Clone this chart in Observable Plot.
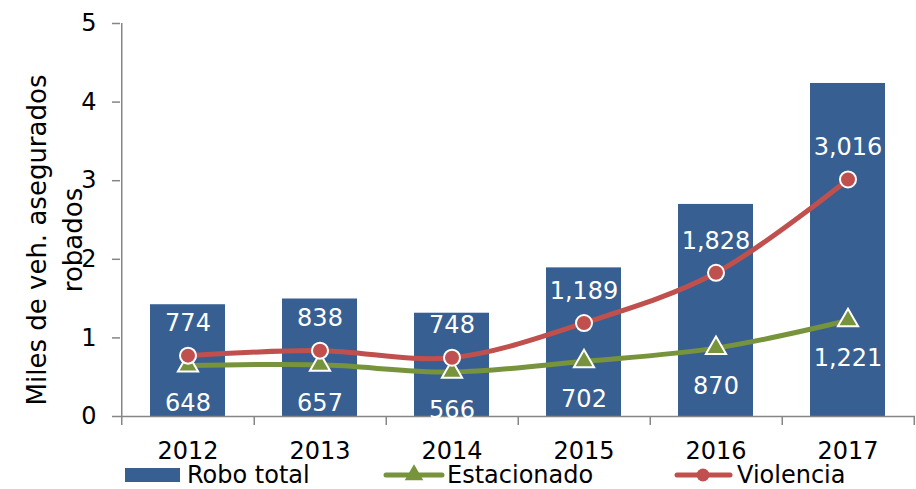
<!DOCTYPE html>
<html>
<head>
<meta charset="utf-8">
<script src="https://cdn.jsdelivr.net/npm/d3@7"></script>
<script src="https://cdn.jsdelivr.net/npm/@observablehq/plot@0.6"></script>
<style>
  html, body { margin: 0; padding: 0; background: #fff; }
  #wrap { position: relative; width: 916px; height: 489px; font-family: "DejaVu Sans", sans-serif; }
</style>
</head>
<body>
<div id="wrap"></div>
<script>
// ---- data ----
const years = ["2012", "2013", "2014", "2015", "2016", "2017"];
const roboTotal = [1422, 1495, 1314, 1891, 2698, 4237];
const violencia = [774, 838, 748, 1189, 1828, 3016];
const estacionado = [648, 657, 566, 702, 870, 1221];
const yTicks = [0, 1, 2, 3, 4, 5];
const yTitle = "Miles de veh. asegurados\nrobados";
const seriesNames = ["Robo total", "Estacionado", "Violencia"];

const BLUE = "#375F92", GREEN = "#77933C", RED = "#C0504D", AXIS = "#868686";
const fmt = d3.format(",");

const rows = years.map((y, i) => ({
  year: y,
  total: roboTotal[i] / 1000,
  vio: violencia[i] / 1000,
  est: estacionado[i] / 1000,
  vioLabel: fmt(violencia[i]),
  estLabel: fmt(estacionado[i])
}));

const halfStep = (916 - 120 - 1) / years.length / 2;

const chart = Plot.plot({
  width: 916,
  height: 489,
  marginLeft: 120,
  marginRight: 1,
  marginTop: 23,
  marginBottom: 73,
  style: { fontFamily: "DejaVu Sans, sans-serif", fontSize: "24px", color: "#000", background: "#fff" },
  x: { domain: years, paddingInner: 0.43, paddingOuter: 0.215, axis: null },
  y: { domain: [0, 5], axis: null },
  marks: [
    Plot.barY(rows, { x: "year", y: "total", fill: BLUE }),
    // axis lines
    Plot.ruleY([0], { stroke: AXIS, strokeWidth: 1.5 }),
    Plot.ruleX([years[0]], { dx: -halfStep, stroke: AXIS, strokeWidth: 1.5, insetBottom: -9 }),
    Plot.ruleX(years, { dx: halfStep, stroke: AXIS, strokeWidth: 1.5, insetTop: 393, insetBottom: -9 }),
    Plot.axisY({ ticks: yTicks, tickSize: 8, tickPadding: 16, stroke: AXIS, strokeWidth: 1.5, fill: "#000", fontSize: 24, tickFormat: d3.format("d"), label: null }),
    Plot.axisX({ tickSize: 0, tickPadding: 25, fill: "#000", fontSize: 24, label: null }),
    // lines
    Plot.line(rows, { x: "year", y: "est", stroke: GREEN, strokeWidth: 5, curve: "catmull-rom" }),
    Plot.line(rows, { x: "year", y: "vio", stroke: RED, strokeWidth: 5, curve: "catmull-rom" }),
    Plot.dot(rows, { x: "year", y: "est", symbol: "triangle", r: 7.5, fill: GREEN, stroke: "#fff", strokeWidth: 2 }),
    Plot.dot(rows, { x: "year", y: "vio", symbol: "circle", r: 8, fill: RED, stroke: "#fff", strokeWidth: 2 }),
    // data labels
    Plot.text(rows, { x: "year", y: "vio", text: "vioLabel", dy: -32, fill: "#fff", fontSize: 24 }),
    Plot.text(rows, { x: "year", y: "est", text: "estLabel", dy: 38, fill: "#fff", fontSize: 24 }),
    // y title
    Plot.text([yTitle], { frameAnchor: "left", dx: -68, dy: 20, rotate: -90, fontSize: 26, lineHeight: 1.38, fill: "#000", textAnchor: "middle" })
  ]
});

const wrap = document.getElementById("wrap");
wrap.appendChild(chart);

// legend
const leg = d3.create("svg").attr("width", 916).attr("height", 30)
  .style("position", "absolute").style("left", "0px").style("top", "459px");
const cy = 16;
leg.append("rect").attr("x", 125).attr("y", cy - 7).attr("width", 55).attr("height", 14).attr("fill", BLUE);
leg.append("text").attr("x", 187).attr("y", cy).attr("dy", "0.35em").attr("font-size", 24).attr("font-family", "DejaVu Sans").text(seriesNames[0]);
leg.append("line").attr("x1", 386).attr("x2", 442).attr("y1", cy).attr("y2", cy).attr("stroke", GREEN).attr("stroke-width", 5).attr("stroke-linecap", "round");
leg.append("path").attr("d", d3.symbol(d3.symbolTriangle, 150)()).attr("transform", `translate(414,${cy})`).attr("fill", GREEN);
leg.append("text").attr("x", 447).attr("y", cy).attr("dy", "0.35em").attr("font-size", 24).attr("font-family", "DejaVu Sans").text(seriesNames[1]);
leg.append("line").attr("x1", 677).attr("x2", 730).attr("y1", cy).attr("y2", cy).attr("stroke", RED).attr("stroke-width", 5).attr("stroke-linecap", "round");
leg.append("circle").attr("cx", 703).attr("cy", cy).attr("r", 6.5).attr("fill", RED);
leg.append("text").attr("x", 737).attr("y", cy).attr("dy", "0.35em").attr("font-size", 24).attr("font-family", "DejaVu Sans").text(seriesNames[2]);
wrap.appendChild(leg.node());
</script>
</body>
</html>
